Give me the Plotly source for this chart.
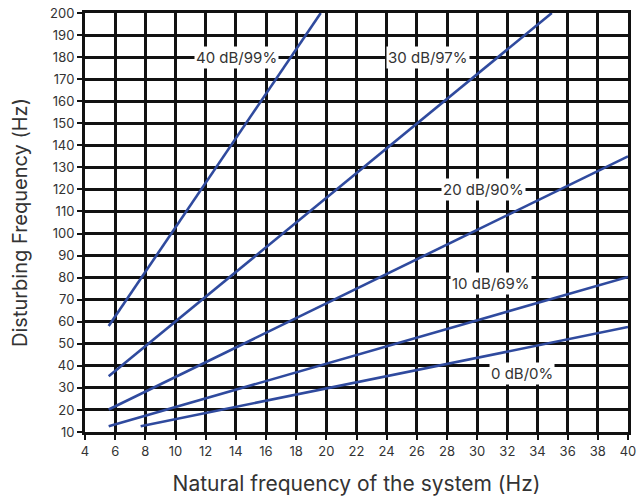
import plotly.graph_objects as go

# Line endpoints (natural freq Hz -> disturbing freq Hz)
series_names = ["40 dB/99%", "30 dB/97%", "20 dB/90%", "10 dB/69%", "0 dB/0%"]
x_start = [5.57, 5.57, 5.57, 5.57, 7.69]
y_start = [58.1, 35.3, 20.2, 12.6, 12.6]
x_end = [19.63, 34.95, 40.0, 40.0, 40.0]
y_end = [200.0, 200.0, 135.0, 80.3, 57.6]

label_x = [14.06, 26.75, 30.4, 30.9, 33.0]
label_y = [180, 180, 120, 77.2, 36.7]

x_ticks = list(range(4, 41, 2))
y_ticks = list(range(10, 201, 10))

FONT = "Inter"
TXT = "#333333"
LINE = "#2f4a9e"

fig = go.Figure()
for n, xs, ys, xe, ye in zip(series_names, x_start, y_start, x_end, y_end):
    fig.add_trace(go.Scatter(x=[xs, xe], y=[ys, ye], mode="lines", name=n,
                             line=dict(color=LINE, width=2.6), showlegend=False))

for n, lx, ly in zip(series_names, label_x, label_y):
    fig.add_annotation(x=lx, y=ly, text=n, showarrow=False, bgcolor="white",
                       font=dict(family=FONT, size=15, color=TXT), borderpad=1)

axis_common = dict(showgrid=True, gridcolor="#111111", gridwidth=3,
                   showline=True, linecolor="#111111", linewidth=3, mirror=True,
                   ticks="outside", ticklen=5, tickwidth=2, tickcolor="#111111",
                   zeroline=False, automargin=False,
                   tickfont=dict(family=FONT, size=13, color=TXT))

fig.update_xaxes(range=[4, 40], tickvals=x_ticks, title=dict(
    text="Natural frequency of the system (Hz)",
    font=dict(family=FONT, size=21, color=TXT), standoff=19), **axis_common)
fig.update_yaxes(range=[10, 200], tickvals=y_ticks, title=dict(
    text="Disturbing Frequency (Hz)",
    font=dict(family=FONT, size=20, color=TXT), standoff=18), **axis_common)

fig.update_layout(width=638, height=497, plot_bgcolor="white", paper_bgcolor="white",
                  margin=dict(l=85, r=10, t=13, b=65))

fig.write_html("out.html", config={"displayModeBar": False},
               post_script="document.body.style.margin='0';document.body.style.overflow='hidden';")
